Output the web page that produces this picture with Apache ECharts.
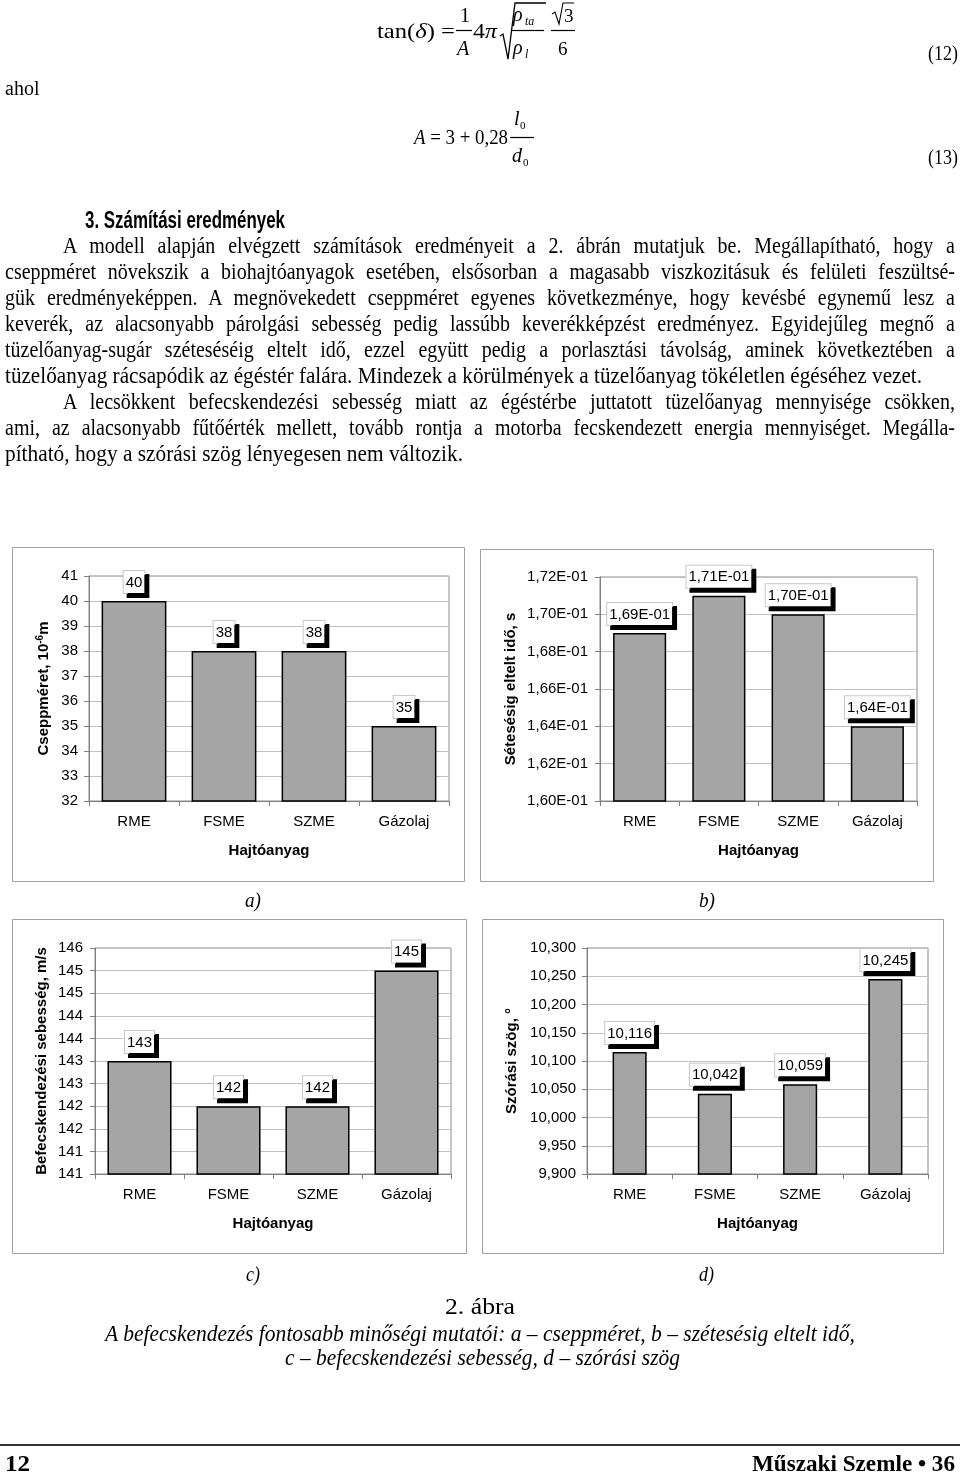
<!DOCTYPE html>
<html><head><meta charset="utf-8">
<script src="https://cdn.jsdelivr.net/npm/echarts@6/dist/echarts.min.js"></script>
<style>
html,body{margin:0;padding:0;background:#fff;}
#page{position:relative;width:960px;height:1474px;overflow:hidden;background:#fff;}
#chart{position:absolute;left:0;top:0;width:960px;height:1474px;}
.t{position:absolute;white-space:nowrap;font-family:'Liberation Serif','Times New Roman',serif;font-size:20px;line-height:24px;color:#000;transform-origin:0 50%;}
svg{position:absolute;left:0;top:0;}
#rule{position:absolute;left:0;top:1444px;width:960px;height:2px;background:#333;}
</style></head>
<body><div id="page">
<div id="chart"></div>
<svg width="960" height="200" font-family="Liberation Serif, Times New Roman, serif" fill="#000">
  <text x="377" y="38" font-size="21" textLength="78" lengthAdjust="spacingAndGlyphs">tan(<tspan font-style="italic">δ</tspan>) =</text>
  <text x="460" y="22" font-size="20">1</text>
  <line x1="456" y1="30.5" x2="472" y2="30.5" stroke="#000" stroke-width="1.2"/>
  <text x="457" y="55" font-size="20" font-style="italic">A</text>
  <text x="473" y="38" font-size="21" textLength="24" lengthAdjust="spacingAndGlyphs">4<tspan font-style="italic">π</tspan></text>
  <path d="M500,36 L503,34 L508,59 L515,3 L546,3" fill="none" stroke="#000" stroke-width="1.3"/>
  <text x="513" y="21" font-size="20" font-style="italic">ρ</text>
  <text x="525" y="25" font-size="12" font-style="italic">ta</text>
  <line x1="512" y1="30.5" x2="544" y2="30.5" stroke="#000" stroke-width="1.2"/>
  <text x="513" y="54" font-size="20" font-style="italic">ρ</text>
  <text x="525" y="58" font-size="12" font-style="italic">l</text>
  <path d="M552,14 L555,12 L559,24 L563,3 L574,3" fill="none" stroke="#000" stroke-width="1.1"/>
  <text x="564" y="22" font-size="19">3</text>
  <line x1="551" y1="30.5" x2="575" y2="30.5" stroke="#000" stroke-width="1.2"/>
  <text x="558" y="55" font-size="19">6</text>
  <text x="928" y="60" font-size="20" textLength="30" lengthAdjust="spacingAndGlyphs">(12)</text>
  <text x="5" y="95" font-size="20">ahol</text>
  <text x="414" y="144" font-size="21" textLength="94" lengthAdjust="spacingAndGlyphs"><tspan font-style="italic">A</tspan> = 3 + 0,28</text>
  <text x="514" y="125" font-size="20" font-style="italic">l</text>
  <text x="520" y="129" font-size="11">0</text>
  <line x1="510" y1="137.5" x2="534" y2="137.5" stroke="#000" stroke-width="1.2"/>
  <text x="512" y="162" font-size="20" font-style="italic">d</text>
  <text x="523" y="166" font-size="11">0</text>
  <text x="928" y="164" font-size="20" textLength="30" lengthAdjust="spacingAndGlyphs">(13)</text>
</svg>
<div id="rule"></div>
</div>
<script>
// ---- chart data ----
const categories = ['RME', 'FSME', 'SZME', 'Gázolaj'];
const dropletSize = [40, 38, 38, 35];            // a) Cseppméret, 10^-6 m
const breakupTime = [0.169, 0.171, 0.170, 0.164]; // b) Sétesésig eltelt idő, s
const injectionSpeed = [143, 142, 142, 145];     // c) Befecskendezési sebesség, m/s
const sprayAngle = [10.116, 10.042, 10.059, 10.245]; // d) Szórási szög, °
const axisA = { min: 32, max: 41, interval: 1 };
const axisB = { min: 0.160, max: 0.172, interval: 0.002 };
const axisC = { min: 140.5, max: 145.5, interval: 0.5 };
const axisD = { min: 9.9, max: 10.3, interval: 0.05 };
const xAxisTitle = 'Hajtóanyag';

// ---- page text ----
const textLines = [
  { s: '3. Számítási eredmények', x: 85, y: 219, w: 200, m: 'fit', sy: 1.22, st: "font-family:'Liberation Sans',Arial,sans-serif;font-weight:bold;font-size:20px;" },
  { s: 'A modell alapján elvégzett számítások eredményeit a 2. ábrán mutatjuk be. Megállapítható, hogy a', x: 63, y: 245, w: 892, m: 'j' },
  { s: 'cseppméret növekszik a biohajtóanyagok esetében, elsősorban a magasabb viszkozitásuk és felületi feszültsé-', x: 5, y: 271, w: 950, m: 'j' },
  { s: 'gük eredményeképpen. A megnövekedett cseppméret egyenes következménye, hogy kevésbé egynemű lesz a', x: 5, y: 297, w: 950, m: 'j' },
  { s: 'keverék, az alacsonyabb párolgási sebesség pedig lassúbb keverékképzést eredményez. Egyidejűleg megnő a', x: 5, y: 323, w: 950, m: 'j' },
  { s: 'tüzelőanyag-sugár széteséséig eltelt idő, ezzel együtt pedig a porlasztási távolság, aminek következtében a', x: 5, y: 349, w: 950, m: 'j' },
  { s: 'tüzelőanyag rácsapódik az égéstér falára. Mindezek a körülmények a tüzelőanyag tökéletlen égéséhez vezet.', x: 5, y: 375, w: 917, m: 'fit' },
  { s: 'A lecsökkent befecskendezési sebesség miatt az égéstérbe juttatott tüzelőanyag mennyisége csökken,', x: 63, y: 401, w: 892, m: 'j' },
  { s: 'ami, az alacsonyabb fűtőérték mellett, tovább rontja a motorba fecskendezett energia mennyiséget. Megálla-', x: 5, y: 427, w: 950, m: 'j' },
  { s: 'pítható, hogy a szórási szög lényegesen nem változik.', x: 5, y: 453, w: 458, m: 'fit' },
  { s: 'a)', x: 245, y: 900, w: 16, m: 'fit', st: 'font-style:italic;font-size:19px;' },
  { s: 'b)', x: 699, y: 900, w: 16, m: 'fit', st: 'font-style:italic;font-size:19px;' },
  { s: 'c)', x: 246, y: 1274, w: 14, m: 'fit', st: 'font-style:italic;font-size:19px;' },
  { s: 'd)', x: 699, y: 1274, w: 15, m: 'fit', st: 'font-style:italic;font-size:19px;' },
  { s: '2. ábra', x: 445, y: 1306, w: 70, m: 'fit' },
  { s: 'A befecskendezés fontosabb minőségi mutatói: a – cseppméret, b – szétesésig eltelt idő,', x: 105, y: 1333, w: 750, m: 'fit', st: 'font-style:italic;' },
  { s: 'c – befecskendezési sebesség, d – szórási szög', x: 285, y: 1357, w: 395, m: 'fit', st: 'font-style:italic;' },
  { s: '12', x: 5, y: 1463, w: 25, m: 'fit', st: 'font-weight:bold;font-size:21px;' },
  { s: 'Műszaki Szemle • 36', x: 752, y: 1463, w: 203, m: 'fit', st: 'font-weight:bold;font-size:21px;' }
];
const SY = 1.12;
const page = document.getElementById('page');
textLines.forEach(function (L) {
  const d = document.createElement('div');
  d.className = 't';
  if (L.st) d.style.cssText = L.st;
  d.style.left = L.x + 'px';
  d.style.top = (L.y - 12) + 'px';
  d.textContent = L.s;
  page.appendChild(d);
  const nat = d.getBoundingClientRect().width;
  let sx = 1;
  if (L.m === 'j' && nat < L.w) {
    const n = (L.s.match(/ /g) || []).length;
    if (n > 0) d.style.wordSpacing = ((L.w - nat) / n) + 'px';
  } else {
    sx = L.w / nat;
  }
  d.style.transform = 'scale(' + sx + ',' + (L.sy || SY) + ')';
});

// ---- charts ----
const FONT = "'Liberation Sans', Arial, sans-serif";
const grids = [
  { left: 89, top: 576, width: 360, height: 225 },
  { left: 600, top: 577, width: 317, height: 224 },
  { left: 95, top: 948, width: 356, height: 226 },
  { left: 587, top: 948, width: 341, height: 226 }
];
const fmtA = function (v) { return String(Math.round(v)); };
const fmtB = function (v) { return (v * 10).toFixed(2).replace('.', ',') + 'E-01'; };
const fmtC = function (v) { return String(Math.round(v)); };
const fmtD = function (v) { return v.toFixed(3).replace('.', ','); };

function makeX(i) {
  return {
    type: 'category', gridIndex: i, data: categories,
    axisLine: { show: true, lineStyle: { color: '#808080', width: 1 } },
    axisTick: { show: true, length: 5, lineStyle: { color: '#808080' } },
    axisLabel: { color: '#000', fontSize: 15, fontFamily: FONT, margin: 13 },
    splitLine: { show: false },
    name: xAxisTitle, nameLocation: 'middle', nameGap: 42,
    nameTextStyle: { color: '#000', fontSize: 15, fontWeight: 'bold', fontFamily: FONT }
  };
}
function makeY(i, ax, fmt, name, gap, margin, rich) {
  return {
    type: 'value', gridIndex: i, min: ax.min, max: ax.max, interval: ax.interval,
    axisLine: { show: true, lineStyle: { color: '#808080', width: 1 } },
    axisTick: { show: true, length: 5, lineStyle: { color: '#808080' } },
    axisLabel: { color: '#000', fontSize: 15, fontFamily: FONT, margin: margin, formatter: fmt },
    splitLine: { show: true, lineStyle: { color: '#c0c0c0', width: 1 } },
    name: name, nameLocation: 'middle', nameGap: gap, nameRotate: 90,
    nameTextStyle: Object.assign({ color: '#000', fontSize: 15, fontWeight: 'bold', fontFamily: FONT }, rich ? { rich: rich } : {})
  };
}
function makeSeries(i, data, gap, fmt) {
  return {
    type: 'bar', xAxisIndex: i, yAxisIndex: i, data: data, barCategoryGap: gap,
    itemStyle: { color: '#a5a5a5', borderColor: '#000', borderWidth: 1.5 },
    label: {
      show: true, position: 'top', distance: 8, color: '#000', fontSize: 15, fontFamily: FONT,
      formatter: function (p) { return fmt(p.value); },
      backgroundColor: '#fff', borderColor: '#c8c8c8', borderWidth: 1, padding: [4, 2, 3, 2],
      shadowColor: '#000', shadowOffsetX: 4, shadowOffsetY: 4, shadowBlur: 0
    },
    emphasis: { disabled: true },
    animation: false
  };
}
const frames = [
  [12.5, 547.5, 452, 334], [480.5, 549.5, 453, 332],
  [12.5, 919.5, 454, 334], [482.5, 919.5, 461, 334]
];
const option = {
  animation: false,
  grid: grids.map(function (g) { return Object.assign({ show: true, borderColor: '#8c8c8c', borderWidth: 1, backgroundColor: 'transparent' }, g); }),
  xAxis: [makeX(0), makeX(1), makeX(2), makeX(3)],
  yAxis: [
    makeY(0, axisA, fmtA, 'Cseppméret, 10{sup|-6}m', 36, 11, { sup: { fontSize: 10, fontWeight: 'bold', fontFamily: FONT, verticalAlign: 'top', padding: [0, 0, 8, 0] } }),
    makeY(1, axisB, fmtB, 'Sétesésig eltelt idő, s', 82, 12),
    makeY(2, axisC, fmtC, 'Befecskendezési sebesség, m/s', 46, 12),
    makeY(3, axisD, fmtD, 'Szórási szög, °', 68, 11)
  ],
  series: [
    makeSeries(0, dropletSize, '28%', fmtA),
    makeSeries(1, breakupTime, '33%', fmtB),
    makeSeries(2, injectionSpeed, '28%', fmtC),
    makeSeries(3, sprayAngle, '60%', fmtD)
  ],
  graphic: frames.map(function (f) {
    return { type: 'rect', silent: true, z: -1, shape: { x: f[0], y: f[1], width: f[2], height: f[3] }, style: { fill: 'none', stroke: '#a0a0a0', lineWidth: 1 } };
  })
};
const chart = echarts.init(document.getElementById('chart'), null, { renderer: 'canvas' });
chart.setOption(option);
</script>
</body></html>
